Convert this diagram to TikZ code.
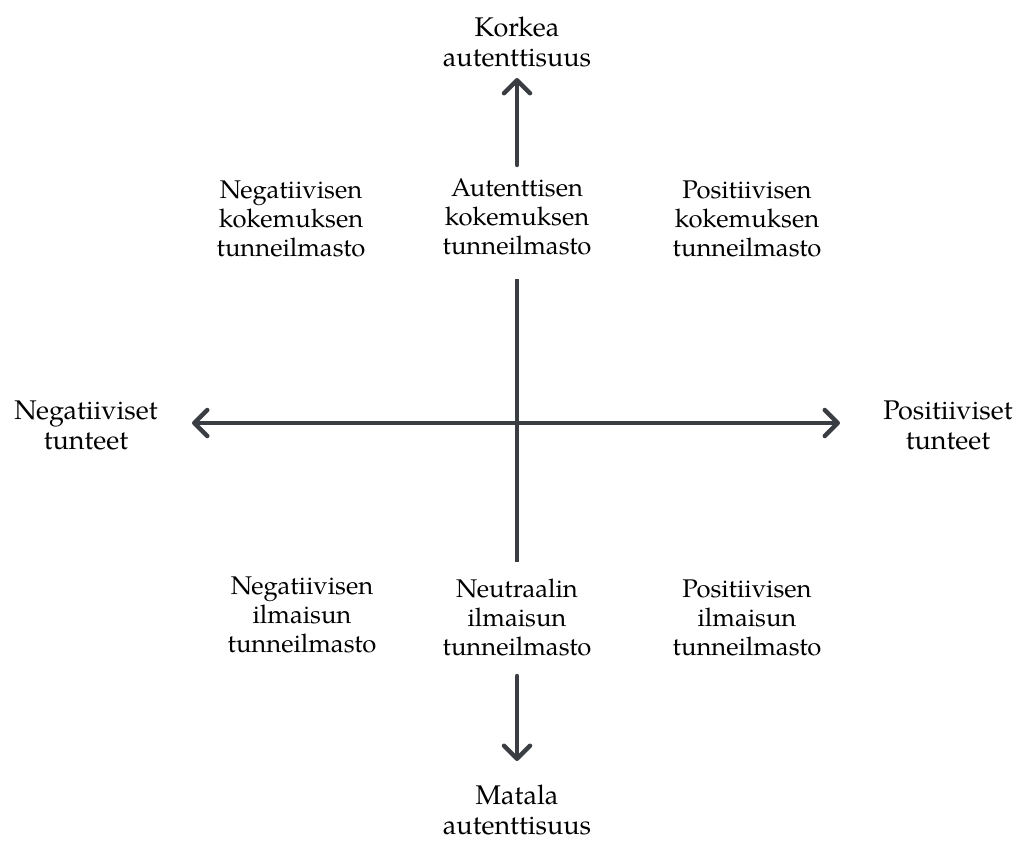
\documentclass[tikz,border=0pt]{standalone}
\usepackage{fontspec}
\setmainfont{texgyrepagella-regular.otf}
\usetikzlibrary{arrows.meta}
\definecolor{axisgray}{HTML}{3A3D42}
\tikzset{
  lbl/.style={align=center, inner sep=0pt, font=\fontsize{25.6}{29}\selectfont, text=black},
  axlbl/.style={lbl, font=\fontsize{27}{30}\selectfont},
  axis/.style={draw=axisgray, line width=4.5pt, line cap=round,
    -{Straight Barb[length=13pt,width=26pt,line width=4.5pt,round]}},
  plain/.style={draw=axisgray, line width=4.5pt}
}
\begin{document}
\begin{tikzpicture}[x=1pt,y=-1pt]
\useasboundingbox (0,0) rectangle (1019,842);
\node[axlbl] (korkea) at (517,42) {Korkea\\autenttisuus};
\node[lbl] (negkok) at (291,219) {Negatiivisen\\kokemuksen\\tunneilmasto};
\node[lbl] (autkok) at (517,217) {Autenttisen\\kokemuksen\\tunneilmasto};
\node[lbl] (poskok) at (747,219) {Positiivisen\\kokemuksen\\tunneilmasto};
\node[axlbl] (negtun) at (86,425) {Negatiiviset\\tunteet};
\node[axlbl] (postun) at (948,425) {Positiiviset\\tunteet};
\node[lbl] (negilm) at (302,615) {Negatiivisen\\ilmaisun\\tunneilmasto};
\node[lbl] (neuilm) at (517,617) {Neutraalin\\ilmaisun\\tunneilmasto};
\node[lbl] (posilm) at (747,618) {Positiivisen\\ilmaisun\\tunneilmasto};
\node[axlbl] (matala) at (517,810) {Matala\\autenttisuus};
\coordinate (c) at (517,423);
\coordinate (topA) at (517,165);
\coordinate (topB) at (517,78);
\coordinate (midA) at (517,279);
\coordinate (midB) at (517,562);
\coordinate (botA) at (517,676);
\coordinate (botB) at (517,761);
\coordinate (leftT) at (192,423);
\coordinate (rightT) at (840,423);
\draw[axis] (topA) -- (topB);
\draw[plain] (midA) -- (midB);
\draw[axis] (botA) -- (botB);
\draw[axis] (c) -- (leftT);
\draw[axis] (c) -- (rightT);
\end{tikzpicture}
\end{document}
